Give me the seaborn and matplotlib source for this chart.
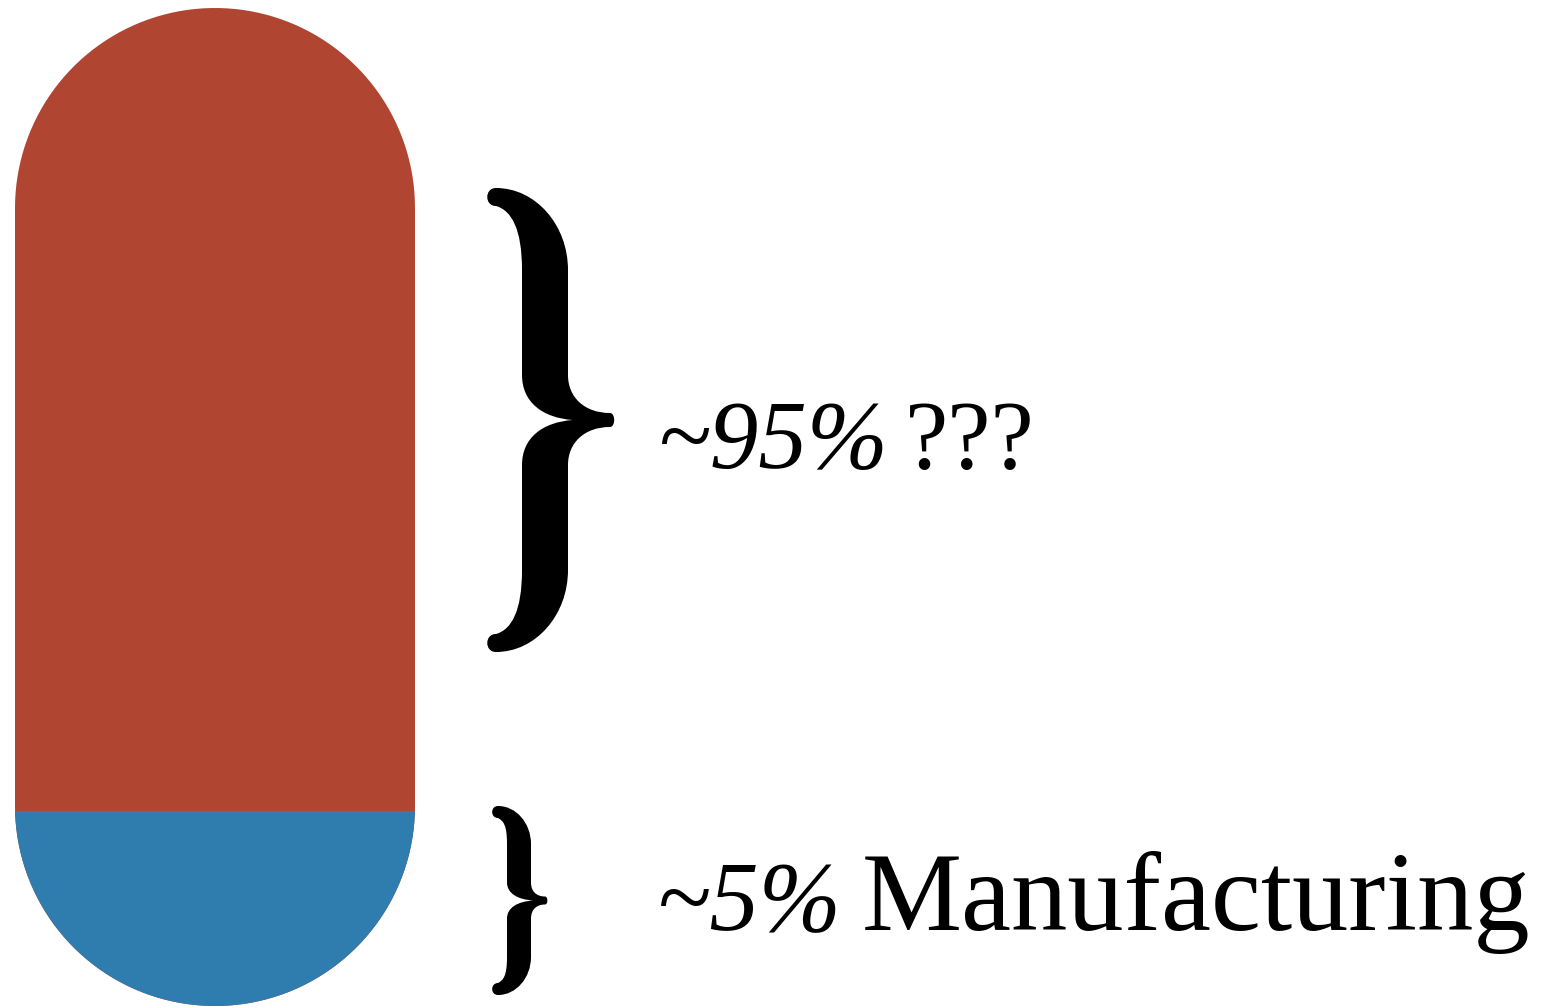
import numpy as np
import seaborn as sns
import matplotlib.pyplot as plt
from matplotlib.path import Path
from matplotlib.patches import PathPatch

# two parts of the capsule, top first
segments = ["Other", "Manufacturing"]
share_labels = ["~95%", "~5%"]
label_tails = ["???", "Manufacturing"]
# how much of the capsule each part fills (%)
fill_height = [80.5, 19.5]
colors = ["#B04532", "#2E7DAE"]

W, H = 1546, 1008
sns.set_style("white")
fig = plt.figure(figsize=(W / 100, H / 100), dpi=100)

# capsule: stacked bar, drawn as cumulative heights (tallest first)
ax = fig.add_axes([15 / W, 2 / H, 400 / W, 998 / H])
cum = np.cumsum(fill_height[::-1])[::-1]
for seg, top, col in zip(segments, cum, colors):
    sns.barplot(x=["pill"], y=[top], color=col, saturation=1, width=1,
                linewidth=0, ax=ax)
ax.set_xlim(-0.5, 0.5)
ax.set_ylim(0, 100)
ax.axis("off")

# overlay in pixel units for braces and text
ann = fig.add_axes([0, 0, 1, 1])
ann.set_xlim(0, W)
ann.set_ylim(H, 0)
ann.axis("off")

# round the bar off into a pill
cx, r, ptop, pbot = 215, 200, 8, 1006
t = np.linspace(np.pi, 0, 80)
upper = np.column_stack([cx + r * np.cos(t), ptop + r - r * np.sin(t)])
lower = np.column_stack([cx - r * np.cos(t), pbot - r + r * np.sin(t)])
pts = np.vstack([upper, lower, upper[:1]])
capsule = Path(pts, closed=True)
for p in ax.patches:
    p.set_clip_path(capsule, ann.transData)


def line(p, q):
    return (p, (p[0] + (q[0] - p[0]) / 3, p[1] + (q[1] - p[1]) / 3),
            (p[0] + 2 * (q[0] - p[0]) / 3, p[1] + 2 * (q[1] - p[1]) / 3), q)


def brace(left, right, top, bot, s0, s1, cap_h, mh, tr, tt):
    mid = (top + bot) / 2
    half = (bot - top) / 2
    lt = left + tt
    notch = s1 + 0.1 * (s1 - s0)
    A0 = (right, -tr)
    A1 = (s1, -mh)
    A2 = (s1, -(half - cap_h))
    A3 = (lt, -half)
    A4 = (lt, -half + 2 * tt)
    A5 = (s0, -(half - cap_h))
    A6 = (s0, -mh)
    A7 = (notch, 0)
    segs = [
        (A0, (s1 + 0.4 * (right - s1), -tr), (s1, -0.5 * mh), A1),
        line(A1, A2),
        (A2, (s1, -(half - 0.45 * cap_h)), (lt + 0.55 * (s1 - lt), -half), A3),
        (A3, (lt - 1.3 * tt, -half), (lt - 1.3 * tt, -half + 2 * tt), A4),
        (A4, (lt + 0.6 * (s0 - lt), -half + 2.5 * tt), (s0, -(half - 0.5 * cap_h)), A5),
        line(A5, A6),
        (A6, (s0, -0.4 * mh), (s0 + 0.4 * (notch - s0), -0.05 * mh), A7),
    ]
    mirror = lambda p: (p[0], -p[1])
    low = [tuple(mirror(p) for p in s[::-1]) for s in segs[::-1]]
    B = (right, tr)
    tip = (B, (right + 0.8 * tr, tr), (right + 0.8 * tr, -tr), A0)
    verts = [segs[0][0]]
    codes = [Path.MOVETO]
    for s in segs + low + [tip]:
        verts += list(s[1:])
        codes += [Path.CURVE4] * 3
    verts.append(verts[0])
    codes.append(Path.CLOSEPOLY)
    verts = [(x, mid + v) for x, v in verts]
    return Path(verts, codes)


ann.add_patch(PathPatch(brace(487, 610, 188, 652, 522, 568, 82, 45, 7, 9),
                        facecolor="black", edgecolor="none"))
ann.add_patch(PathPatch(brace(492, 545, 806, 995, 507, 531, 38, 18, 4, 6),
                        facecolor="black", edgecolor="none"))

serif = "Liberation Serif"
# top label
ann.text(657, 468, share_labels[0], fontsize=70, fontstyle="italic",
         family=serif, va="baseline", ha="left", color="black")
ann.text(905, 468, label_tails[0], fontsize=70, family=serif,
         va="baseline", ha="left", color="black")
# bottom label
ann.text(657, 930, share_labels[1], fontsize=71, fontstyle="italic",
         family=serif, va="baseline", ha="left", color="black")
ann.text(1530, 930, label_tails[1], fontsize=81, family=serif,
         va="baseline", ha="right", color="black")

fig.savefig("out.png", dpi=100, facecolor="white")
